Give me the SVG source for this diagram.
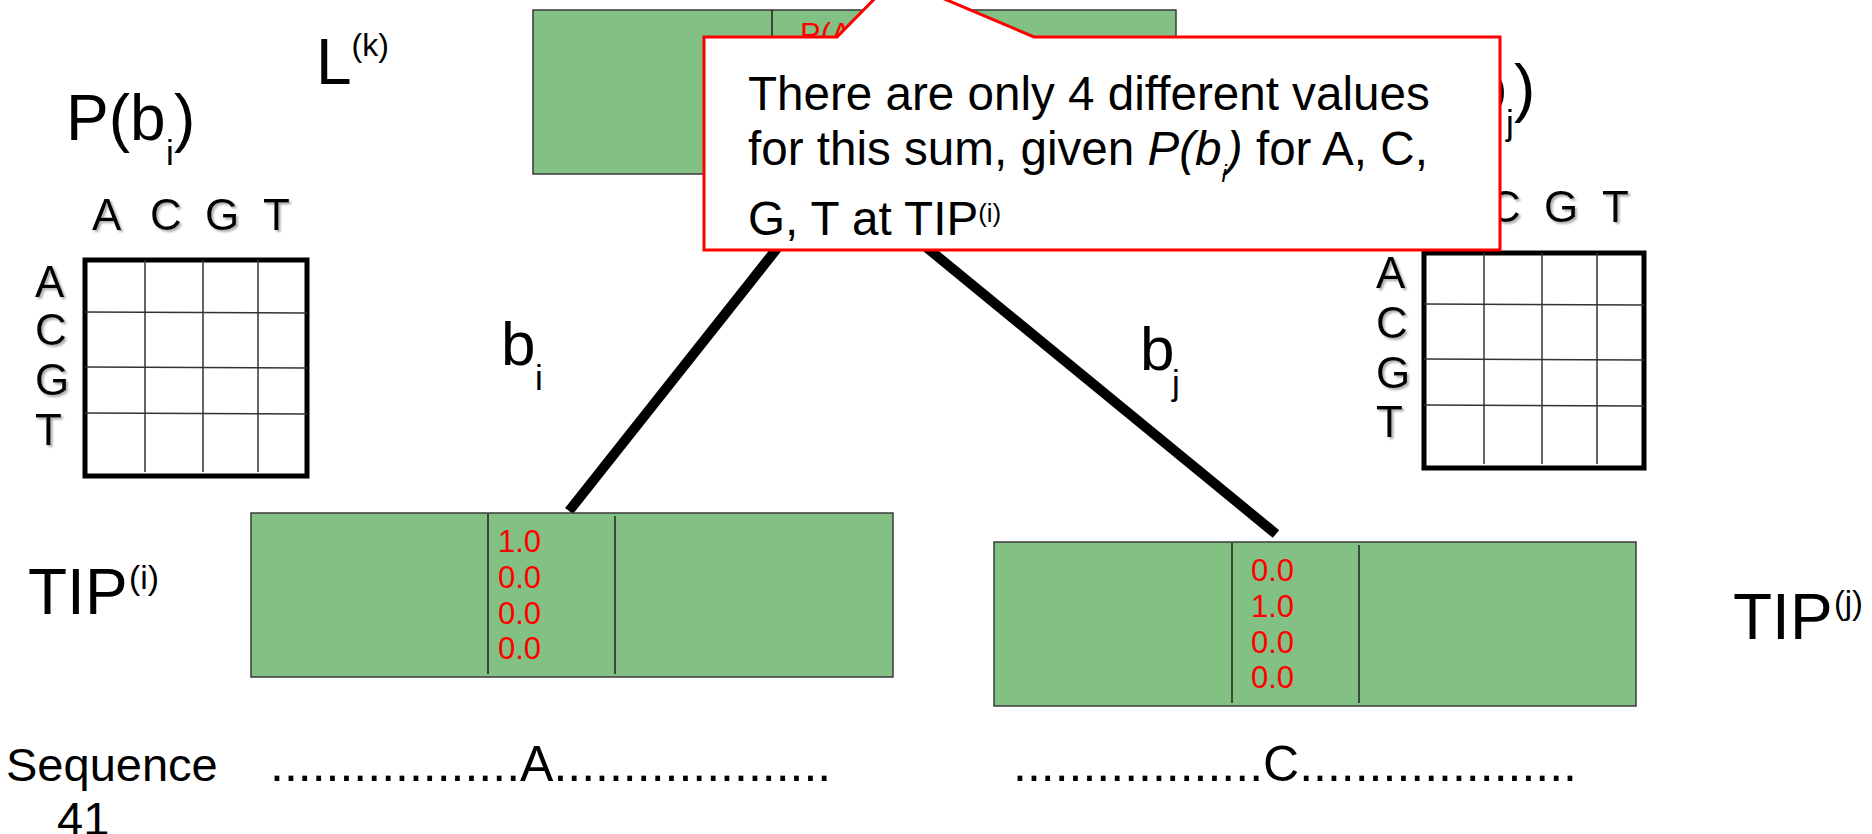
<svg xmlns="http://www.w3.org/2000/svg" width="1872" height="834" viewBox="0 0 1872 834">
<defs>
<filter id="sh" x="-20%" y="-20%" width="150%" height="150%">
<feDropShadow dx="2" dy="2" stdDeviation="1" flood-color="#888" flood-opacity="0.7"/>
</filter>
<style>
text{font-family:"Liberation Sans",Arial,sans-serif;fill:#000}
.green{fill:#82c083;stroke:#3a3a3a;stroke-width:1.5}
.div{stroke:#222;stroke-width:1.5}
.num{fill:#ff0000;font-size:31px}
.big{font-size:64px}
.sub{font-size:35px}
.sup{font-size:32px}
.mat{font-size:44px;filter:url(#sh)}
.outer{fill:#fff;stroke:#000;stroke-width:5}
.grid{stroke:#333;stroke-width:1.5}
.branch{stroke:#000;stroke-width:10;fill:none}
.seq{font-size:50px}
.lbl{font-size:47px}
.call{fill:#fff;stroke:#ff0000;stroke-width:3}
.ct{font-size:47.6px}
</style>
</defs>

<g id="node-Lk">
<rect class="green" x="533" y="10" width="643" height="164"/>
<line class="div" x1="772" y1="10" x2="772" y2="174"/>
<line class="div" x1="899" y1="10" x2="899" y2="174"/>
<text class="num" x="800" y="45">P(A</text>
<text class="big" x="316" y="84">L<tspan class="sup" dy="-28">(k)</tspan></text>
</g>

<g id="connectors">
<line class="branch" x1="836" y1="174" x2="569" y2="511"/>
<line class="branch" x1="837" y1="174" x2="1276" y2="534"/>
</g>

<g id="label-bi">
<text x="501" y="365" font-size="62">b</text>
<text class="sub" x="535" y="390">i</text>
</g>
<g id="label-bj">
<text x="1140" y="370" font-size="62">b</text>
<text class="sub" x="1172" y="395">j</text>
</g>

<g id="matrix-i">
<text class="big" x="66" y="140">P(b</text>
<text class="sub" x="166" y="165">i</text>
<text class="big" x="174" y="140">)</text>
<text class="mat" x="92" y="230">A</text>
<text class="mat" x="150" y="230">C</text>
<text class="mat" x="205" y="230">G</text>
<text class="mat" x="263" y="230">T</text>
<text class="mat" x="35" y="297">A</text>
<text class="mat" x="35" y="345">C</text>
<text class="mat" x="35" y="395">G</text>
<text class="mat" x="35" y="445">T</text>
<rect class="outer" x="85" y="260" width="222" height="216"/>
<line class="grid" x1="145" y1="260" x2="145" y2="472"/>
<line class="grid" x1="203" y1="260" x2="203" y2="472"/>
<line class="grid" x1="258" y1="260" x2="258" y2="472"/>
<line class="grid" x1="85" y1="312" x2="307" y2="313"/>
<line class="grid" x1="85" y1="367" x2="307" y2="368"/>
<line class="grid" x1="85" y1="413" x2="307" y2="414"/>
</g>

<g id="matrix-j">
<text class="big" x="1407" y="110">P(b</text>
<text class="sub" x="1506" y="135">j</text>
<text class="big" x="1514" y="110">)</text>
<text class="mat" x="1431" y="222">A</text>
<text class="mat" x="1489" y="222">C</text>
<text class="mat" x="1544" y="222">G</text>
<text class="mat" x="1602" y="222">T</text>
<text class="mat" x="1376" y="288">A</text>
<text class="mat" x="1376" y="338">C</text>
<text class="mat" x="1376" y="388">G</text>
<text class="mat" x="1376" y="437">T</text>
<rect class="outer" x="1424" y="253" width="220" height="215"/>
<line class="grid" x1="1484" y1="253" x2="1484" y2="464"/>
<line class="grid" x1="1542" y1="253" x2="1542" y2="464"/>
<line class="grid" x1="1597" y1="253" x2="1597" y2="464"/>
<line class="grid" x1="1424" y1="304" x2="1644" y2="305"/>
<line class="grid" x1="1424" y1="359" x2="1644" y2="360"/>
<line class="grid" x1="1424" y1="405" x2="1644" y2="406"/>
</g>

<g id="tip-i">
<rect class="green" x="251" y="513" width="642" height="164"/>
<line class="div" x1="488" y1="514" x2="488" y2="674"/>
<line class="div" x1="615" y1="516" x2="615" y2="674"/>
<text class="num" x="498" y="552">1.0</text>
<text class="num" x="498" y="588">0.0</text>
<text class="num" x="498" y="624">0.0</text>
<text class="num" x="498" y="659">0.0</text>
<text class="big" x="28" y="614">TIP</text>
<text x="129" y="589" font-size="34" textLength="30" lengthAdjust="spacingAndGlyphs">(i)</text>
</g>

<g id="tip-j">
<rect class="green" x="994" y="542" width="642" height="164"/>
<line class="div" x1="1232" y1="543" x2="1232" y2="703"/>
<line class="div" x1="1359" y1="545" x2="1359" y2="703"/>
<text class="num" x="1251" y="581">0.0</text>
<text class="num" x="1251" y="617">1.0</text>
<text class="num" x="1251" y="653">0.0</text>
<text class="num" x="1251" y="688">0.0</text>
<text class="big" x="1733" y="639">TIP</text>
<text x="1834" y="614" font-size="34" textLength="29" lengthAdjust="spacingAndGlyphs">(j)</text>
</g>

<g id="sequence">
<text class="lbl" x="6" y="781">Sequence</text>
<text class="lbl" x="57" y="835">41</text>
<text class="seq" x="270" y="781">..................A....................</text>
<text class="seq" x="1013" y="781">..................C....................</text>
</g>

<g id="callout">
<path class="call" d="M704,37 L837,37 L895,-22 L1034,37 L1500,37 L1500,250 L704,250 Z"/>
<text class="ct" x="748" y="110">There are only 4 different values</text>
<text class="ct" x="748" y="165">for this sum, given <tspan font-style="italic">P(b</tspan><tspan font-style="italic" font-size="24" dy="17">i</tspan><tspan font-style="italic" dy="-17">)</tspan> for A, C,</text>
<text class="ct" x="748" y="235">G, T at TIP<tspan font-size="26" dy="-13">(i)</tspan></text>
</g>
</svg>
